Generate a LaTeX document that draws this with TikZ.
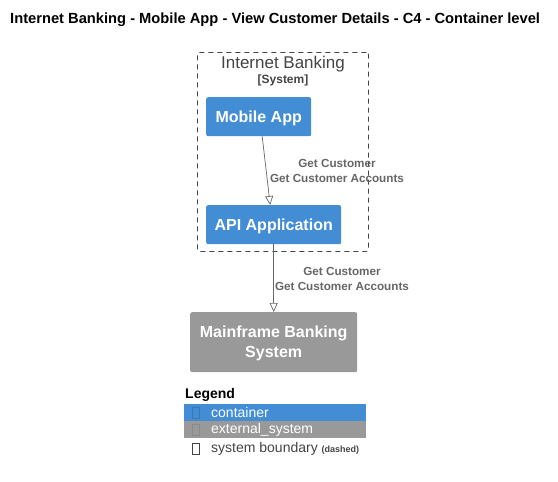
\documentclass[tikz,border=0pt]{standalone}
\usepackage{fontspec}
\setmainfont{Liberation Sans}
\usetikzlibrary{arrows.meta}
\definecolor{contblue}{HTML}{438DD5}
\definecolor{extgray}{HTML}{999999}
\definecolor{lblgray}{HTML}{666666}
\definecolor{bndgray}{HTML}{444444}
\begin{document}
\begin{tikzpicture}[x=1pt,y=-1pt]
\tikzstyle{box}=[anchor=north west,rounded corners=2pt,inner sep=0pt,text=white,align=center,text depth=0pt,font=\fontsize{16}{20}\selectfont\bfseries]
\tikzstyle{container}=[box,fill=contblue]
\tikzstyle{external}=[box,fill=extgray]
\tikzstyle{boundary}=[anchor=north west,draw=bndgray,line width=0.8pt,dash pattern=on 5pt off 4pt,rounded corners=2pt,inner sep=0pt]
\tikzstyle{rel}=[draw=lblgray,line width=0.7pt,-{Triangle[open,length=9pt,width=8pt]}]
\tikzstyle{rellabel}=[text=lblgray,align=center,font=\fontsize{11.7}{15}\selectfont\bfseries,inner sep=0pt]
\tikzstyle{legrow}=[anchor=north west,inner sep=0pt,minimum width=182pt,minimum height=17pt]
\tikzstyle{legicon}=[draw,inner sep=0pt,minimum width=7pt,minimum height=11pt]
\tikzstyle{legtext}=[anchor=west,inner sep=0pt,font=\fontsize{14}{16}\selectfont]
\useasboundingbox (0,0) rectangle (558,482);
\node [anchor=west,inner sep=0pt,font=\fontsize{14.7}{17}\selectfont\bfseries] (title) at (10,20) {Internet Banking - Mobile App - View Customer Details - C4 - Container level};
\node [boundary,minimum width=171pt,minimum height=199pt] (ib) at (197,52) {};
\node [text=bndgray,inner sep=0pt,font=\fontsize{17}{20}\selectfont] (ibname) at (283,64) {Internet Banking};
\node [text=bndgray,inner sep=0pt,font=\fontsize{12}{14}\selectfont\bfseries] (ibtype) at (283,80) {[System]};
\node [container,minimum width=105pt,minimum height=39pt] (ma) at (206,97) {Mobile App};
\node [container,minimum width=135pt,minimum height=39pt] (api) at (206,205) {API Application};
\node [external,minimum width=167pt,minimum height=60pt] (mf) at (190,312) {Mainframe Banking\\System};
\draw [rel] ([xshift=3.5pt]ma.south) -- ([xshift=-3.5pt]api.north);
\draw [rel] (api.south) -- (mf.north);
\node [rellabel] (l1) at (337,171) {Get Customer\\Get Customer Accounts};
\node [rellabel] (l2) at (342,279) {Get Customer\\Get Customer Accounts};
% legend
\node [anchor=west,inner sep=0pt,font=\fontsize{14}{16}\selectfont\bfseries] (leg) at (185,395) {Legend};
\node [legrow,fill=contblue] (r1) at (184,404) {};
\node [legrow,fill=extgray] (r2) at (184,421) {};
\node [legicon,draw=contblue!85!black] (i1) at (196,412.5) {};
\node [legicon,draw=extgray!90!black] (i2) at (196,429.5) {};
\node [legicon,draw=bndgray] (i3) at (196,449) {};
\node [legtext,text=white] (t1) at (211,412.5) {container};
\node [legtext,text=white] (t2) at (211,429.5) {external\_system};
\node [legtext,text=bndgray] (t3) at (211,449) {system boundary \fontsize{9}{10}\selectfont\bfseries(dashed)};
\end{tikzpicture}
\end{document}
